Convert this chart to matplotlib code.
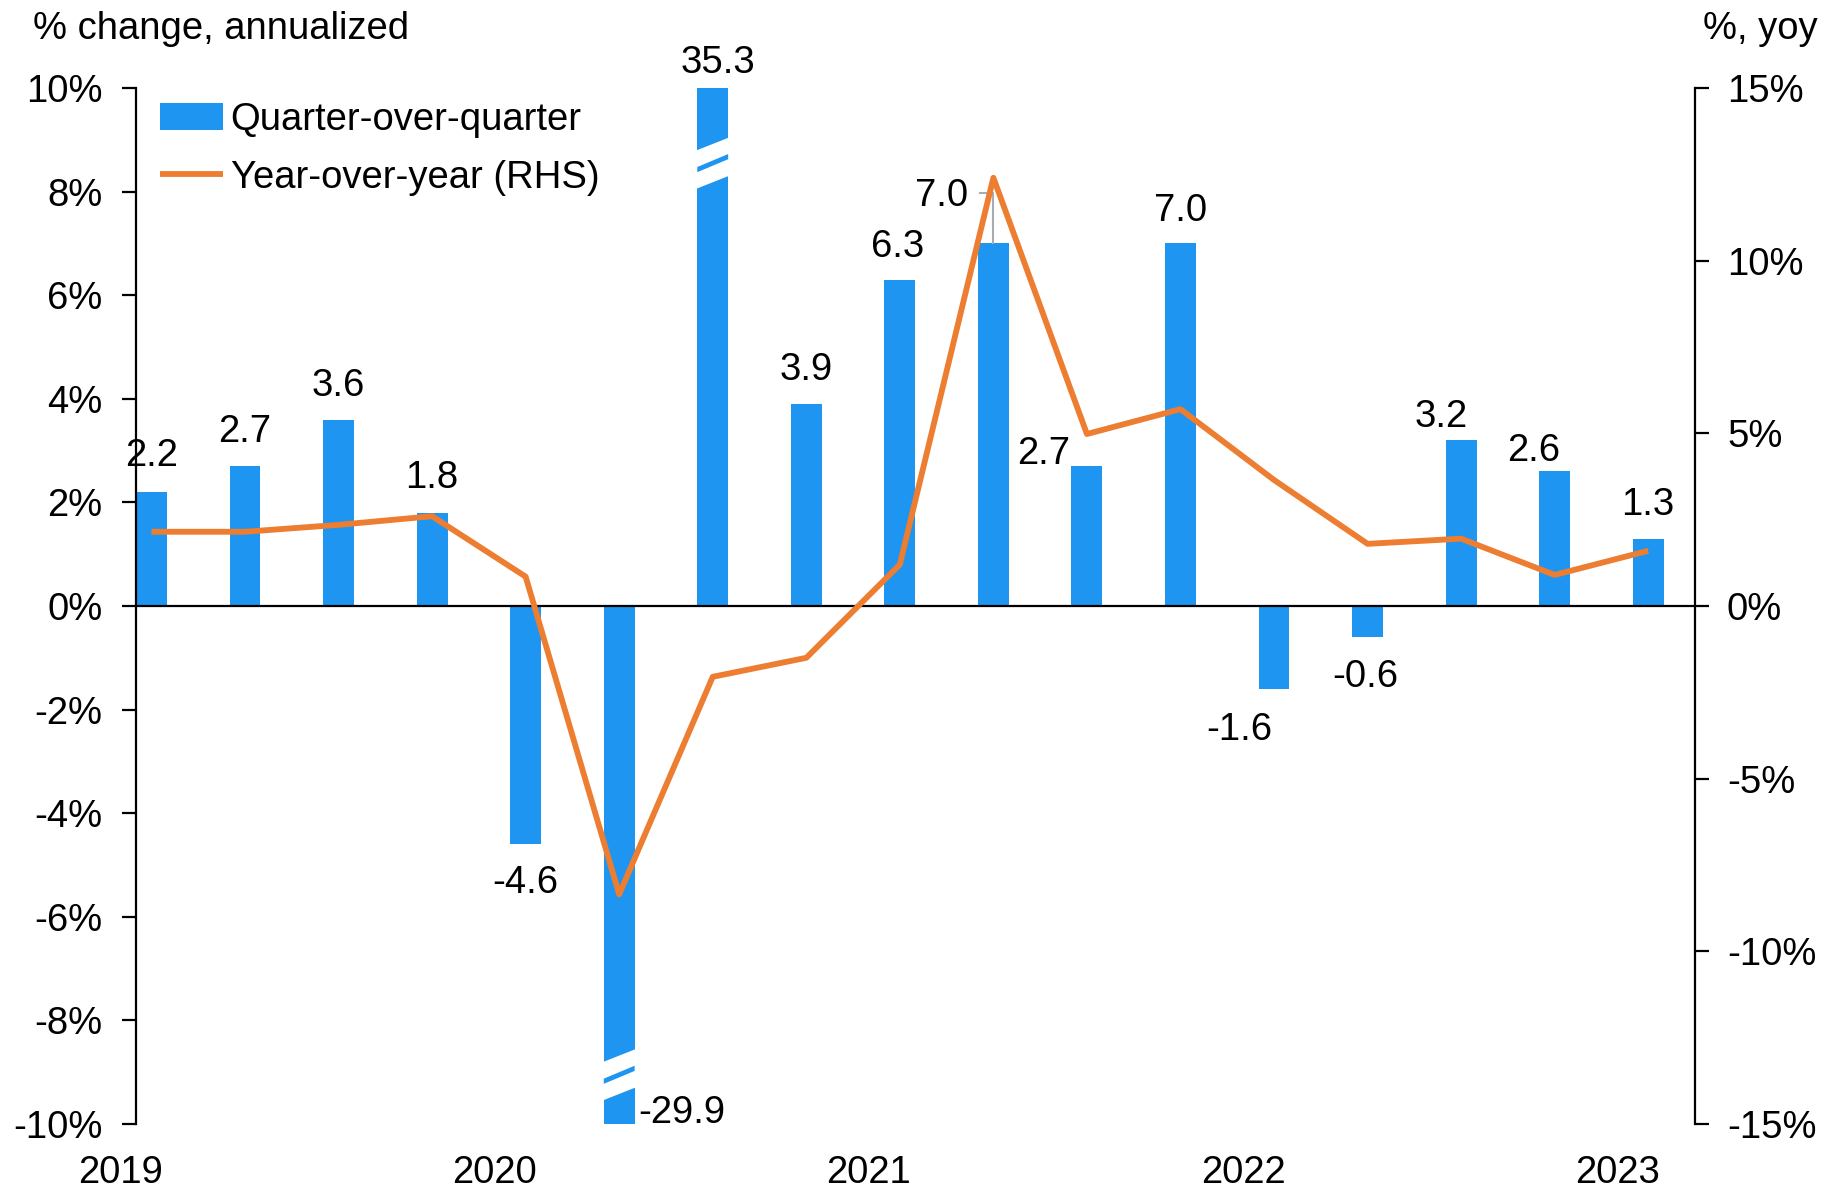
import numpy as np
import matplotlib
matplotlib.use("Agg")
import matplotlib.pyplot as plt
from matplotlib.patches import Polygon
from matplotlib.transforms import offset_copy

plt.rcParams['font.family'] = ['Liberation Sans', 'DejaVu Sans']

# ---------------- data ----------------
quarters = ["2019Q1", "2019Q2", "2019Q3", "2019Q4",
            "2020Q1", "2020Q2", "2020Q3", "2020Q4",
            "2021Q1", "2021Q2", "2021Q3", "2021Q4",
            "2022Q1", "2022Q2", "2022Q3", "2022Q4",
            "2023Q1"]
qoq = [2.2, 2.7, 3.6, 1.8, -4.6, -29.9, 35.3, 3.9, 6.3, 7.0, 2.7, 7.0,
       -1.6, -0.6, 3.2, 2.6, 1.3]
yoy = [2.15, 2.15, 2.35, 2.6, 0.85, -8.35, -2.05, -1.5, 1.2, 12.4, 4.98,
       5.7, 3.65, 1.8, 1.95, 0.9, 1.6]
year_labels = ["2019", "2020", "2021", "2022", "2023"]
left_ticks = [-10, -8, -6, -4, -2, 0, 2, 4, 6, 8, 10]
right_ticks = [-15, -10, -5, 0, 5, 10, 15]

# ---------------- style ----------------
BLUE = '#1E95F0'
ORANGE = '#ED7D31'
FS = 27.5
W, H = 1845, 1191
fig = plt.figure(figsize=(W / 100, H / 100), dpi=100)
ax = fig.add_axes([136 / W, 1 - 1124 / H, (1695 - 136) / W, (1124 - 88) / H])
ax2 = ax.twinx()

LEFT_LIM = (-10, 10)
RIGHT_LIM = (-15, 15)
x = np.arange(len(quarters))
bw = 0.33

shown = np.clip(qoq, LEFT_LIM[0], LEFT_LIM[1])
bars = ax.bar(x, shown, width=bw, color=BLUE, zorder=2,
              label="Quarter-over-quarter")


# axis break marks on clipped bars
def break_mark(xc, yc):
    slope = 0.25  # rise across the bar width (data units)
    half = bw / 2 + 0.01
    ax.add_patch(Polygon([(xc - half, yc - 0.37 - slope / 2), (xc + half, yc - 0.37 + slope / 2),
                          (xc + half, yc + 0.37 + slope / 2), (xc - half, yc + 0.37 - slope / 2)],
                         closed=True, color='white', lw=0, zorder=3))
    hb = bw / 2
    ax.add_patch(Polygon([(xc - hb, yc - 0.05 - slope / 2), (xc + hb, yc - 0.05 + slope / 2),
                          (xc + hb, yc + 0.05 + slope / 2), (xc - hb, yc + 0.05 - slope / 2)],
                         closed=True, color=BLUE, lw=0, zorder=3.5))


for i, v in enumerate(qoq):
    if v > LEFT_LIM[1]:
        break_mark(x[i], LEFT_LIM[1] - 1.45)
    elif v < LEFT_LIM[0]:
        break_mark(x[i], LEFT_LIM[0] + 0.95)

ax.axhline(0, color='black', lw=1.6, zorder=4)

line, = ax2.plot(x, yoy, color=ORANGE, lw=4.2, zorder=5,
                 solid_joinstyle='round', solid_capstyle='butt',
                 label="Year-over-year (RHS)")
ax2.patch.set_visible(False)

# spines
for s in ['top', 'bottom', 'right']:
    ax.spines[s].set_visible(False)
for s in ['top', 'bottom', 'left']:
    ax2.spines[s].set_visible(False)
ax.spines['left'].set_linewidth(1.6)
ax2.spines['right'].set_linewidth(1.6)

ax.set_yticks(left_ticks)
ax.set_yticklabels([f"{t}%" for t in left_ticks])
ax2.set_yticks(right_ticks)
ax2.set_yticklabels([f"{t}%" for t in right_ticks])
ax.tick_params(axis='y', length=10, width=1.6, labelsize=FS, pad=14)
ax2.tick_params(axis='y', length=10, width=1.6, labelsize=FS, pad=13)
ax.set_xticks([])

# limits
ax.set_xlim(-bw / 2, len(quarters) - 0.5)
ax.set_ylim(*LEFT_LIM)
ax2.set_ylim(*RIGHT_LIM)

# year labels under first quarter of each year
ytrans = offset_copy(ax.get_xaxis_transform(), fig=fig, x=0, y=-49, units='dots')
for k, lab in enumerate(year_labels):
    ax.text(x[k * 4] - 0.33, 0, lab, transform=ytrans, ha='center', va='center',
            fontsize=FS, clip_on=False)

# data labels (offsets in pixels: dx, dy relative to bar end)
offsets = {0: (0, 36), 1: (0, 34), 2: (0, 34), 3: (0, 35), 4: (0, -39),
           6: (5, 25), 7: (0, 34), 8: (-2, 33), 10: (-43, 12), 11: (0, 32),
           12: (-35, -41), 13: (-2, -40), 14: (-20, 23), 15: (-21, 20),
           16: (0, 34)}
for i, v in enumerate(qoq):
    yv = shown[i]
    if i in offsets:
        dx, dy = offsets[i]
        ax.annotate(f"{v:.1f}", (x[i], yv), xytext=(dx, dy),
                    textcoords='offset pixels', ha='center', va='center',
                    fontsize=FS, zorder=6)
    elif i == 5:
        ax.annotate(f"{v:.1f}", (x[i] + bw / 2, yv), xytext=(4, 11),
                    textcoords='offset pixels', ha='left', va='center',
                    fontsize=FS, zorder=6)
    elif i == 9:
        # label with leader line
        ax.annotate(f"{v:.1f}", (x[i], yv), xytext=(-52, 47),
                    textcoords='offset pixels', ha='center', va='center',
                    fontsize=FS, zorder=6)
        top = yv + 50 / 51.8
        ax.plot([x[i] - 0.14, x[i], x[i]], [top, top, yv], color='#A5ACB3',
                lw=1.5, zorder=4.5)

# legend
handles = [bars, line]
leg = ax.legend(handles, [h.get_label() for h in handles], loc='upper left',
                bbox_to_anchor=(24 / 1559, 1 - 14 / 1036), frameon=False,
                fontsize=FS, borderpad=0, borderaxespad=0, handlelength=1.65,
                handletextpad=0.2, labelspacing=0.57)
leg.set_zorder(10)

# axis titles
fig.text(33 / W, 1 - 29 / H, "% change, annualized", fontsize=FS,
         ha='left', va='center')
fig.text(1818 / W, 1 - 29 / H, "%, yoy", fontsize=FS, ha='right', va='center')

fig.savefig("out.png", dpi=100)
